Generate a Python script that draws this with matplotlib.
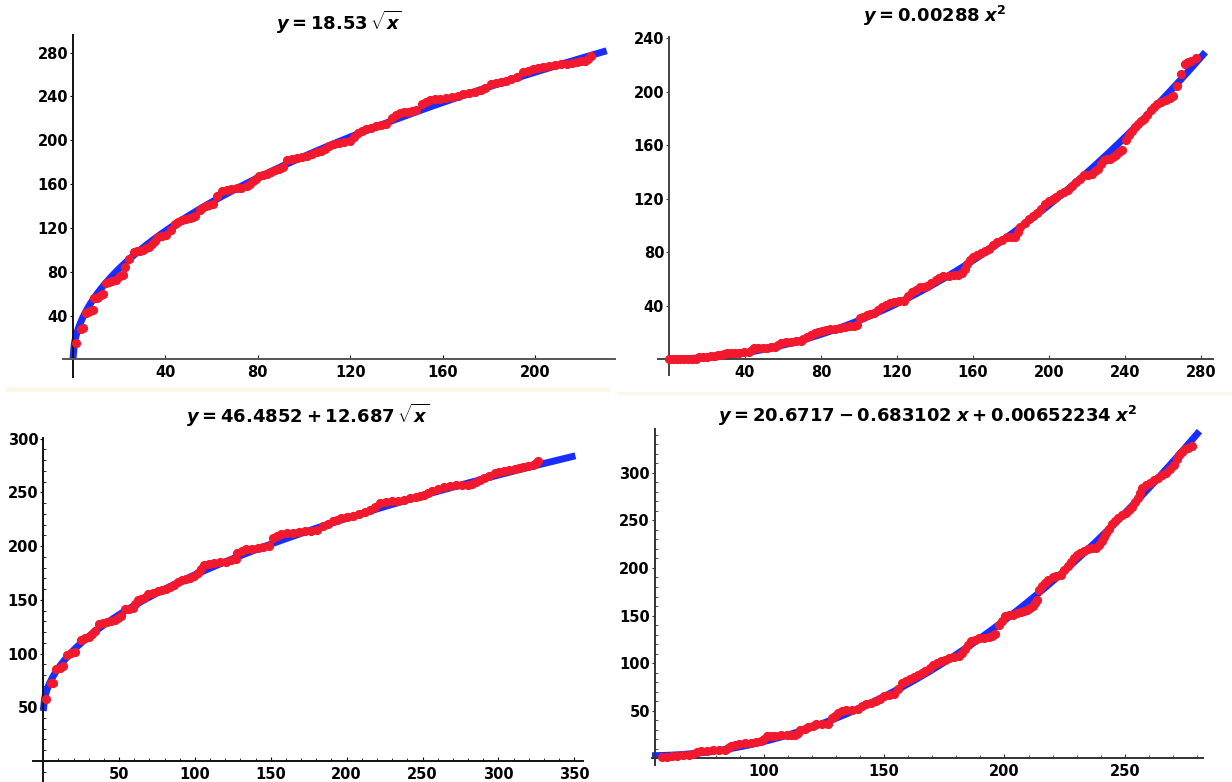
import numpy as np
import matplotlib
matplotlib.use("Agg")
import matplotlib.pyplot as plt
from matplotlib.patches import Rectangle
from matplotlib.ticker import MultipleLocator

plt.rcParams['font.family'] = ['DejaVu Sans']
plt.rcParams['mathtext.fontset'] = 'custom'
plt.rcParams['mathtext.rm'] = 'DejaVu Sans:bold'
plt.rcParams['mathtext.it'] = 'DejaVu Sans:bold:italic'
plt.rcParams['mathtext.bf'] = 'DejaVu Sans:bold'

# ---------------- data ----------------
# Panel 1: y = 18.53 sqrt(x)
x1 = [1.5, 3.3, 4.2, 5.5, 6.5, 7.6, 8.5, 9.3, 10.2, 11, 12, 13, 14.4, 15.7, 17, 18.7, 20.4, 21.5, 22.5,
      24.4, 26.5, 27.8, 29, 30.3, 31.6, 33, 34.2, 35.5, 36.8, 38.5, 40.2, 42.3, 44, 45.5, 47, 48.8, 50.5,
      52, 53, 54.8, 56, 57.4, 59, 60.8, 62.2, 64.3, 66.5, 68.6, 70.8, 72.9, 75.4, 76.8, 78, 79.3, 80.6,
      82.3, 84, 85.8, 87.5, 89.2, 91, 92.6, 94.8, 97, 99, 101.2, 103.3, 105.5, 107.3, 109, 111, 113,
      115.2, 117.5, 120, 121.8, 123.5, 125.2, 127, 129.2, 131.3, 133.5, 135.6, 138, 139.8, 141.6, 143.3,
      145, 146.8, 148.5, 151, 152.8, 154.5, 156.6, 158.8, 161.4, 164, 166.5, 169, 171.6, 174.2, 176.4,
      178.5, 181, 183.2, 185.4, 187.5, 189.7, 192.3, 194.8, 197, 199, 201.2, 203.4, 206, 208.6, 211.2,
      213.7, 216, 218, 220, 221.5, 223, 224]
y1 = [15, 28, 29, 42, 43, 44, 45, 56, 56.5, 57, 59, 60, 70, 71, 72, 72.6, 76, 77, 84,
      92, 98, 98.5, 99.4, 100, 101.5, 103, 105.5, 108, 111.6, 112.5, 113.7, 118, 124, 125.5, 127, 128, 129,
      130, 131, 136.6, 138, 140, 141, 141.8, 149.4, 154, 155, 155.5, 156, 156.4, 158, 160, 162.5, 165, 167,
      168.3, 169.5, 171, 172.6, 174, 176, 182, 182.8, 183.5, 184.5, 185.4, 187, 189, 190.5, 192, 194.5, 197,
      197.6, 198.2, 199, 203, 206.7, 208.5, 210.4, 211.6, 212.8, 214, 215, 220.7, 222.7, 224.7, 225.4,
      226, 226.8, 227.7, 232.6, 234.6, 236.6, 237.3, 238, 238.8, 239.6, 240.7, 241.8, 242.9, 244, 246,
      248, 251, 252, 253, 254.2, 255.5, 258, 262, 263.3, 264.6, 265.8, 267, 267.6, 268.3, 269.2,
      270, 270.6, 271.3, 272, 272.6, 274, 276.8]

# Panel 2: y = 0.00288 x^2
x2 = [0, 2, 4, 6, 8, 10, 12, 14, 16, 18, 20, 22, 24, 26, 27.5, 29, 30.7, 32.8, 35, 37, 39.5, 42, 43.5,
      45, 47, 49.3, 51.6, 53.6, 55.7, 57.3, 59, 61.5, 64, 66.6, 69.3, 70.8, 72.4, 74.5, 76.6, 78.7, 80.8,
      82.9, 85, 87.5, 90, 92.7, 95.4, 97.2, 99, 100.6, 102.3, 104, 106, 108, 110, 112, 114, 116.2, 118.4,
      121, 123.6, 125.7, 127.8, 129.9, 132, 134, 136, 138.1, 140.3, 142.4, 144.5, 147.2, 150, 152.1,
      154.3, 155.6, 157, 158.5, 160, 162.1, 164.3, 166.4, 168.5, 170.5, 172.6, 175.3, 178, 180, 182,
      183.5, 185, 187.2, 189.4, 191.4, 193.5, 195.6, 197.7, 199.8, 202, 204, 206, 208.1, 210.2, 212.3,
      214.4, 216.5, 218.6, 220.7, 222.8, 224.4, 226, 227.5, 229, 230.5, 232, 233.6, 235.3, 236.8, 238.4,
      240.5, 242, 243.6, 245.2, 246.8, 248.4, 250, 251.8, 253.6, 255.3, 257, 259.2, 261.4, 263.5, 265.5,
      267.6, 269.7, 271.8, 273.4, 275, 277.4]
y2 = [0, 0, 0, 0, 0, 0, 0, 0.3, 1.2, 1.5, 1.8, 2.2, 2.5, 2.8, 3, 3.8, 4.2, 4.4, 4.6, 4.7, 5.1, 5.5, 6.5,
      8, 8.2, 8.4, 8.5, 8.8, 9.2, 10.5, 11.7, 12.4, 13, 13.1, 13.2, 14.7, 16.2, 18, 19.7, 20.4, 21,
      21.6, 22.2, 22.6, 23, 23.8, 24.6, 25, 25.4, 30.4, 31.7, 33, 33.8, 34.6, 36.8, 39, 40.3, 41.7, 43,
      43.3, 43.6, 47, 50.3, 51.9, 53.5, 54, 54.5, 56.7, 59, 60.5, 62, 62.2, 62.5, 63.2,
      64, 67.7, 71.4, 73.9, 76.4, 77.7, 79, 80.8, 82.6, 85.1, 87.6, 89.3, 91, 91.2, 91.4,
      95, 98.8, 101.9, 105, 107.1, 109.3, 112.5, 115.8, 117.9, 120, 121.6, 123.2, 124.7, 126.2, 129.3,
      132.4, 134.9, 137.4, 138, 138.7, 140.5, 142.4, 145.7, 149, 149.5, 149.9, 151.5, 153, 154.8, 156.6,
      163.6, 167.3, 171, 173.5, 176, 177.8, 179.7, 182.8, 186, 188.5, 191, 192.5, 194, 195.6, 197.2,
      204.6, 213.3, 220.8, 222, 223.3, 225.3]

# Panel 3: y = 46.4852 + 12.687 sqrt(x)
x3 = [2, 5, 6.5, 8.6, 10.8, 13, 15.7, 18.3, 21, 25, 27.5, 30, 32, 34, 36.6, 39.2, 41.8, 44.4, 47, 49, 51,
      53.6, 56.2, 58.9, 60.6, 62.3, 64.5, 66.7, 69.3, 72.6, 75.9, 78.5, 81, 83.6, 86.3, 89, 91.6, 94.2,
      96.8, 99.4, 102, 104, 106, 109.2, 112.5, 116.4, 120.4, 123.7, 127, 128, 130.7, 133.5, 137.4, 141.3,
      145.1, 149, 151.7, 154.3, 157, 160.9, 164.8, 168.7, 172.6, 176.5, 180.5, 184.4, 187.7, 191, 193.6,
      196.2, 200.1, 204, 208, 212, 215.2, 218.4, 222.3, 226.2, 230.2, 234.1, 238, 242, 246, 248.5, 251,
      253.6, 256.3, 260.1, 264, 268, 272, 276, 280, 282.5, 285, 287.6, 290.3, 294.1, 298, 300.7, 303.4,
      307.3, 311.2, 313.8, 316.5, 319.7, 323, 324.7, 326.4]
y3 = [57.5, 72.4, 73, 85.4, 86.5, 88, 98.8, 100.2, 101.6, 112.7, 114.2, 115.8, 118.5, 121.4, 127.3, 128.2,
      129, 130.2, 131.4, 133, 134.5, 141.3, 141.8, 142.2, 145.8, 149.4, 150.5, 151.6, 155.6, 156.7, 157.8,
      158.9, 160, 162, 164, 166.3, 168.6, 169.4, 170.2, 172.6, 175, 178.5, 182, 183.1, 184.2, 185, 185.7,
      187, 188.2, 194, 195.5, 197, 197.6, 198.1, 199.2, 200.3, 207.5, 209.5, 211.5, 212.1, 212.7, 213.2,
      213.7, 214.4, 215.2, 218.3, 220.6, 223, 224.5, 226, 227.1, 228.3, 229.8, 231.4, 233.8, 236.3, 240,
      240.8, 241.6, 242.4, 243.2, 244.4, 245.6, 246.7, 247.8, 249.4, 251, 252.8, 254.7, 255.6, 256.5,
      256.8, 257, 258.1, 259.3, 261.3, 263.4, 265.7, 268, 268.8, 269.6, 270.6, 271.7, 272.6, 273.6,
      274.7, 275.8, 277.3, 278.9]

# Panel 4: y = 20.6717 - 0.683102 x + 0.00652234 x^2
x4 = [57.6, 59.7, 61.8, 64.2, 66.7, 68.8, 70.8, 72.5, 74.1, 76.5, 79, 81.5, 84, 85.3, 86.5, 88.2, 89.8,
      92.2, 94.7, 96.7, 98.8, 100, 101.3, 103, 104.6, 107.1, 109.6, 111.2, 112.9, 114.1, 115.3, 117,
      118.6, 120.3, 121.9, 124.4, 126.9, 128.5, 129.8, 131, 132.7, 134.3, 136.8, 139.2, 140.8, 142.5,
      144.5, 146.6, 148.3, 150, 152, 154, 155.7, 157.4, 159, 160.7, 162.3, 164, 165.6, 167.2, 168.9,
      170.5, 172.1, 173.8, 175.5, 177.1, 179.2, 181.3, 182.5, 183.7, 185, 186.2, 187.8, 189.5, 191.5,
      193.6, 194.8, 196.1, 197.7, 199, 200.2, 201.8, 203.5, 205.1, 206.8, 208, 209.3, 210.5, 211.8,
      212.6, 213.4, 214.2, 215.4, 216.7, 218.3, 220, 221.6, 223.3, 224.9, 226.6, 227.8, 229, 230.2,
      231.5, 233.1, 234.8, 236.4, 238.1, 239.3, 240.6, 241.4, 242.2, 243.4, 244.7, 245.9, 247.2, 248.8,
      250.5, 251.7, 253, 254.2, 255.4, 256.2, 257.1, 258.7, 260.4, 262, 263.7, 265.3, 267, 268.6,
      270.3, 271.5, 272.7, 273.9, 275.2, 276.4, 277.7]
y4 = [0.9, 1.8, 2.6, 2.8, 3, 3.7, 4.4, 6.2, 7.9, 8.1, 8.3, 8.6, 9, 11, 13.2, 14.3, 15.3,
      15.6, 16, 16.8, 17.7, 20.4, 23, 23.4, 23.7, 24, 24.4, 24.6, 24.8, 27, 29.3, 31,
      32.8, 34.4, 36, 36.1, 36.3, 42.3, 44.9, 47.5, 49.3, 51, 51.3, 51.7, 54.5, 57.3,
      58.5, 59.8, 62.7, 65.7, 66.8, 67.9, 72.8, 79, 81.2, 83.3, 85.5, 87.8, 89.5, 91.3, 94.9,
      98.4, 100.2, 102, 103.7, 105.4, 106.3, 107.2, 111, 114.9, 119, 123, 124.7, 126.4, 126.8,
      127.1, 128.8, 130.6, 140.5, 144.8, 149.2, 150.1, 151, 152.2, 153.4, 154.8, 156.2, 158.3, 160.4,
      163.5, 166.7, 177.3, 180.8, 184.3, 187.5, 190.6, 191.8, 193, 197.4, 201.8, 206.2, 210.6, 213.2,
      215.8, 217.9, 220, 220.5, 221.1, 224.6, 228.2, 232.6, 237, 241.3, 245.7, 249.2, 252.7, 255.3,
      258, 261.1, 264.2, 269, 273.7, 279, 284.3, 286.9, 289.5, 292.1, 294.7, 297.3, 300, 304.3,
      308.7, 314, 319.2, 321.8, 324.5, 326.2, 328]

# fitted model coefficients (shown in titles)
c1 = 18.53
c2 = 0.00288
c3 = (46.4852, 12.687)
c4 = (20.6717, -0.683102, 0.00652234)

titles = [r'$y = 18.53\,\sqrt{x}$',
          r'$y = 0.00288\;x^{2}$',
          r'$y = 46.4852 + 12.687\,\sqrt{x}$',
          r'$y = 20.6717 - 0.683102\;x + 0.00652234\;x^{2}$']

xt1, yt1 = [40, 80, 120, 160, 200], [40, 80, 120, 160, 200, 240, 280]
xt2, yt2 = [40, 80, 120, 160, 200, 240, 280], [40, 80, 120, 160, 200, 240]
xt3, yt3 = [50, 100, 150, 200, 250, 300, 350], [50, 100, 150, 200, 250, 300]
xt4, yt4 = [100, 150, 200, 250], [50, 100, 150, 200, 250, 300]

# ---------------- figure ----------------
W, H = 1232, 782
fig = plt.figure(figsize=(W / 100, H / 100), dpi=100)
fig.patch.set_facecolor('white')

BLUE = '#1a2dff'
RED = '#f2192e'
LW = 5
MS = 5.6


def make_ax(left, top, right, bottom):
    return fig.add_axes([left / W, 1 - bottom / H, (right - left) / W, (bottom - top) / H])


def style(ax, xlim, ylim, x0, xt, yt, axcol, minor=None):
    ax.set_xlim(*xlim)
    ax.set_ylim(*ylim)
    for s in ['top', 'right']:
        ax.spines[s].set_visible(False)
    ax.spines['left'].set_position(('data', x0))
    ax.spines['bottom'].set_position(('data', 0))
    for s in ['left', 'bottom']:
        ax.spines[s].set_color(axcol)
        ax.spines[s].set_linewidth(1.4)
    ax.set_xticks(xt)
    ax.set_yticks(yt)
    ax.set_xticklabels([str(v) for v in xt], fontsize=10.5, fontweight='bold')
    ax.set_yticklabels([str(v) for v in yt], fontsize=10.5, fontweight='bold')
    ax.tick_params(axis='x', direction='in', length=3, width=0.8, pad=4, colors=axcol, labelcolor='black')
    ax.tick_params(axis='y', direction='out', length=2.5, width=0.8, pad=1, colors=axcol, labelcolor='black')
    if minor:
        ax.xaxis.set_minor_locator(MultipleLocator(minor[0]))
        ax.yaxis.set_minor_locator(MultipleLocator(minor[1]))
        ax.tick_params(which='minor', direction='in', length=2, width=0.6, colors=axcol)
    ax.patch.set_alpha(0)


# Panel 1
ax1 = make_ax(63, 35, 615, 377)
xx = np.linspace(0, 231, 400)
ax1.plot(xx, c1 * np.sqrt(xx), color=BLUE, lw=LW, solid_capstyle='butt', zorder=2)
ax1.plot(x1, y1, 'o', color=RED, ms=MS, mec=RED, zorder=3)
style(ax1, (-4.3, 234.6), (-16, 296), 0, xt1, yt1, '#111111')
ax1.spines['bottom'].set_color('#555555')

# Panel 2
ax2 = make_ax(658, 37, 1213, 375)
xx = np.linspace(0, 282.4, 400)
ax2.plot(xx, c2 * xx ** 2, color=BLUE, lw=LW, solid_capstyle='butt', zorder=2)
ax2.plot(x2, y2, 'o', color=RED, ms=MS, mec=RED, zorder=3)
style(ax2, (-5.8, 286.4), (-12, 241), 0, xt2, yt2, '#444444')

# Panel 3
ax3 = make_ax(32.5, 438, 583, 782)
xx = np.linspace(0, 350.8, 400)
ax3.plot(xx, c3[0] + c3[1] * np.sqrt(xx), color=BLUE, lw=LW, solid_capstyle='butt', zorder=2)
ax3.plot(x3, y3, 'o', color=RED, ms=MS, mec=RED, zorder=3)
style(ax3, (-7.1, 355.8), (-19.6, 300.7), 0, xt3, yt3, '#111111', minor=(10, 10))

# Panel 4
ax4 = make_ax(651.7, 429, 1203.3, 765)
xx = np.linspace(53.5, 281, 400)
ax4.plot(xx, c4[0] + c4[1] * xx + c4[2] * xx ** 2, color=BLUE, lw=LW, solid_capstyle='butt', zorder=2)
ax4.plot(x4, y4, 'o', color=RED, ms=MS, mec=RED, zorder=3)
style(ax4, (53.5, 282.6), (-7, 346), 54.8, xt4, yt4, '#333333', minor=(10, 10))

# titles
title_pos = [(339, 22), (935, 16), (308, 415), (928, 416)]
for (tx, ty), t in zip(title_pos, titles):
    fig.text(tx / W, 1 - ty / H, t, ha='center', va='center', fontsize=13)

# faint separator bands
fig.patches.append(Rectangle((6 / W, 1 - 392 / H), 604 / W, 5 / H, transform=fig.transFigure,
                             facecolor='#fcf7e6', edgecolor='none', zorder=0))
fig.patches.append(Rectangle((618 / W, 1 - 395 / H), 614 / W, 3 / H, transform=fig.transFigure,
                             facecolor='#fcf7e6', edgecolor='none', zorder=0))

fig.savefig('out.png', dpi=100)
